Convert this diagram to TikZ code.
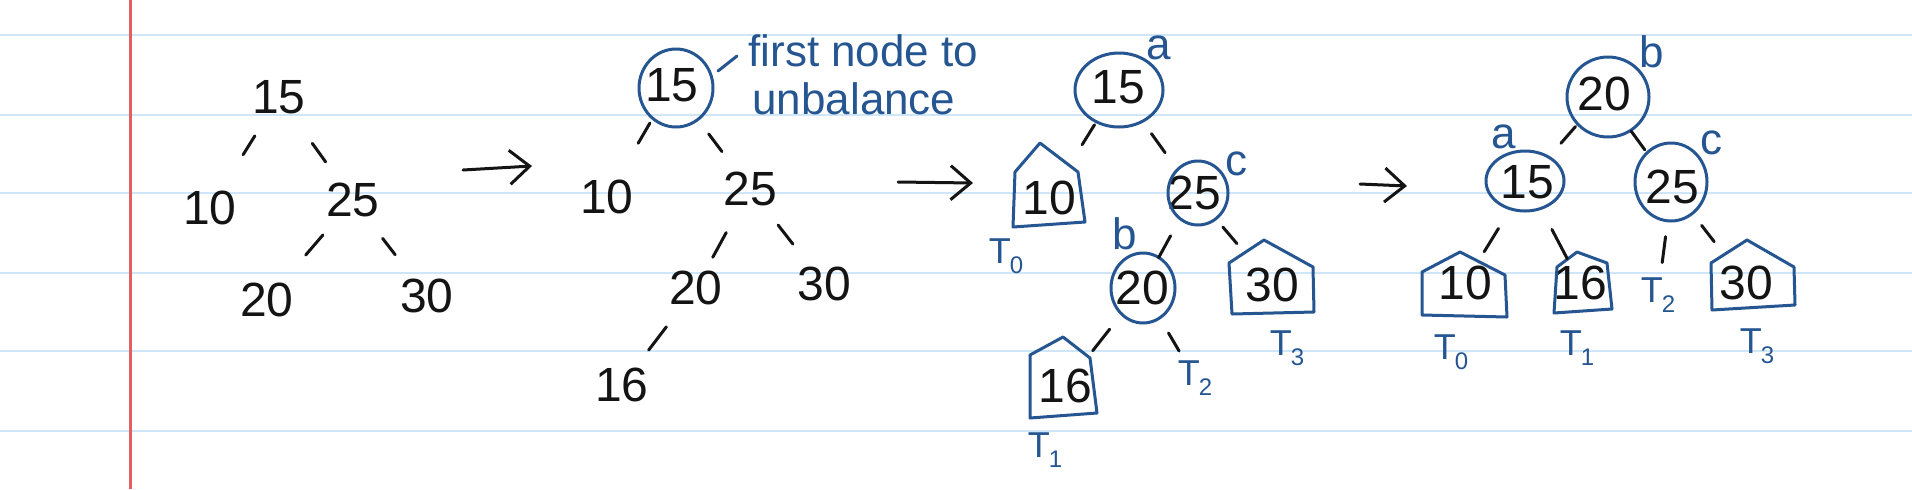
\documentclass[tikz,border=0pt]{standalone}
\usepackage{fontspec}
\setmainfont{Liberation Sans}
\usetikzlibrary{calc,arrows.meta,shapes.geometric}
\definecolor{ink}{RGB}{20,20,20}
\definecolor{bink}{RGB}{38,86,145}
\definecolor{paperrule}{RGB}{206,230,247}
\definecolor{marginred}{RGB}{226,96,96}
\newcommand\Tlab[1]{T\kern-0.5pt\raisebox{-5pt}{\fontsize{12}{12}\selectfont #1}}
\begin{document}
\begin{tikzpicture}[x=0.5pt,y=-0.5pt,
 num/.style={font=\fontsize{24}{24}\selectfont, text=ink, inner sep=0pt},
 lab/.style={font=\fontsize{22}{22}\selectfont, text=bink, inner sep=0pt},
 tlab/.style={font=\fontsize{18}{18}\selectfont, text=bink, inner sep=0pt},
 note/.style={font=\fontsize{22}{22}\selectfont, text=bink, inner sep=0pt, anchor=base west},
 seg/.style 2 args={draw=ink, line width=1.5pt, line cap=round, to path={($(\tikztostart)!#1!(\tikztotarget)$) -- ($(\tikztostart)!#2!(\tikztotarget)$)}},
 ring/.style 2 args={ellipse, draw=bink, line width=1.5pt, minimum width=#1pt, minimum height=#2pt, inner sep=0pt},
 hut/.style={draw=bink, line width=1.5pt, line join=round},
 bline/.style={draw=bink, line width=1.5pt, line cap=round},
 flow/.style={draw=ink, line width=1.5pt, line cap=round, -{Straight Barb[length=10pt,width=17pt]}},
]
\fill[white] (0,0) rectangle (1912,489);
\useasboundingbox (0,0) rectangle (1912,489);
% paper
\foreach \yy in {34.7,115,192.7,272.7,350.7,430.7}
  \draw[paperrule, line width=1pt] (0,\yy) -- (1912,\yy);
\draw[marginred, line width=1.3pt] (130.7,0) -- (130.7,489);

% ---------- tree 1
\node[num] (a15) at (279,97) {15};
\node[num] (a10) at (210,208) {10};
\node[num] (a25) at (353,200) {25};
\node[num] (a20) at (267,300) {20};
\node[num] (a30) at (427,296) {30};
\draw[seg={0.35}{0.52}] (a15) to (a10);
\draw[seg={0.45}{0.63}] (a15) to (a25);
\draw[seg={0.35}{0.55}] (a25) to (a20);
\draw[seg={0.40}{0.57}] (a25) to (a30);

% arrow 1
\coordinate (ar1a) at (463,170);
\coordinate (ar1b) at (532,166);
\draw[flow] (ar1a) -- (ar1b);

% ---------- tree 2
\node[num] (b15) at (672,85) {15};
\node[ring={37}{39}] (b15r) at (676,88) {};
\node[num] (b10) at (607,197) {10};
\node[num] (b25) at (750,189) {25};
\node[num] (b20) at (696,288) {20};
\node[num] (b30) at (824,284) {30};
\node[num] (b16) at (622,385) {16};
\draw[seg={0.34}{0.52}] (b15) to (b10);
\draw[seg={0.47}{0.64}] (b15) to (b25);
\draw[seg={0.44}{0.69}] (b25) to (b20);
\draw[seg={0.38}{0.58}] (b25) to (b30);
\draw[seg={0.40}{0.64}] (b20) to (b16);
\node[note] (n1) at (748,66) {first node to};
\node[note] (n2) at (752,114) {unbalance};
\coordinate (nt1) at (718,71);
\coordinate (nt2) at (737,56);
\draw[bline] (nt1) -- (nt2);

% arrow 2
\coordinate (ar2a) at (898,182);
\coordinate (ar2b) at (973,183);
\draw[flow] (ar2a) -- (ar2b);

% ---------- tree 3
\node[num] (c15) at (1118,87) {15};
\node[ring={44}{37}] (c15r) at (1119,90) {};
\node[num] (c10) at (1049,198) {10};
\node[num] (c25) at (1194,193) {25};
\node[ring={30}{32}] (c25r) at (1198,193) {};
\node[num] (c20) at (1142,288) {20};
\node[ring={32}{35}] (c20r) at (1143,288) {};
\node[num] (c30) at (1272,285) {30};
\node[num] (c16) at (1065,386) {16};
\draw[hut] (1040,143) -- (1078,172) -- (1085,222) -- (1013,227) -- (1015,172) -- cycle;
\draw[hut] (1264,240) -- (1313,267) -- (1314,312) -- (1232,314) -- (1229,263) -- cycle;
\draw[hut] (1063,337) -- (1090,358) -- (1097,413) -- (1030,418) -- (1030,355) -- cycle;
\node[lab] (ca) at (1159,48) {a};
\node[lab] (cc) at (1236,164) {c};
\node[lab] (cb) at (1125,234) {b};
\node[tlab] (cT0) at (1006,256) {\Tlab{0}};
\node[tlab] (cT1) at (1045,450) {\Tlab{1}};
\node[tlab] (cT2) at (1195,378) {\Tlab{2}};
\node[tlab] (cT3) at (1287,348) {\Tlab{3}};
\draw[seg={0.34}{0.52}] (c15) to (c10);
\draw[seg={0.44}{0.62}] (c15) to (c25);
\draw[seg={0.45}{0.68}] (c25) to (c20);
\draw[seg={0.37}{0.55}] (c25) to (c30);
\draw[seg={0.42}{0.64}] (c20) to (c16);
\draw[seg={0.50}{0.70}] (c20) to (cT2);

% arrow 3
\coordinate (ar3a) at (1360,184);
\coordinate (ar3b) at (1407,186);
\draw[flow] (ar3a) -- (ar3b);

% ---------- tree 4
\node[num] (d20) at (1604,94) {20};
\node[ring={41}{40}] (d20r) at (1608,97) {};
\node[num] (d15) at (1527,182) {15};
\node[ring={39}{30}] (d15r) at (1525,181) {};
\node[num] (d25) at (1672,187) {25};
\node[ring={36}{39}] (d25r) at (1671,182) {};
\node[num] (d10) at (1465,283) {10};
\node[num] (d16) at (1580,283) {16};
\node[num] (d30) at (1746,283) {30};
\draw[hut] (1460,252) -- (1505,275) -- (1507,317) -- (1422,315) -- (1422,272) -- cycle;
\draw[hut] (1577,252) -- (1607,263) -- (1612,309) -- (1554,313) -- (1557,267) -- cycle;
\draw[hut] (1747,240) -- (1794,267) -- (1795,305) -- (1712,310) -- (1711,263) -- cycle;
\node[lab] (db) at (1652,52) {b};
\node[lab] (da) at (1504,137) {a};
\node[lab] (dc) at (1711,143) {c};
\node[tlab] (dT0) at (1451,352) {\Tlab{0}};
\node[tlab] (dT1) at (1577,348) {\Tlab{1}};
\node[tlab] (dT2) at (1658,295) {\Tlab{2}};
\node[tlab] (dT3) at (1757,346) {\Tlab{3}};
\draw[seg={0.37}{0.56}] (d20) to (d15);
\draw[seg={0.40}{0.60}] (d20) to (d25);
\draw[seg={0.46}{0.69}] (d15) to (d10);
\draw[seg={0.47}{0.76}] (d15) to (d16);
\draw[seg={0.46}{0.70}] (d25) to (dT2);
\draw[seg={0.40}{0.57}] (d25) to (d30);
\end{tikzpicture}
\end{document}
